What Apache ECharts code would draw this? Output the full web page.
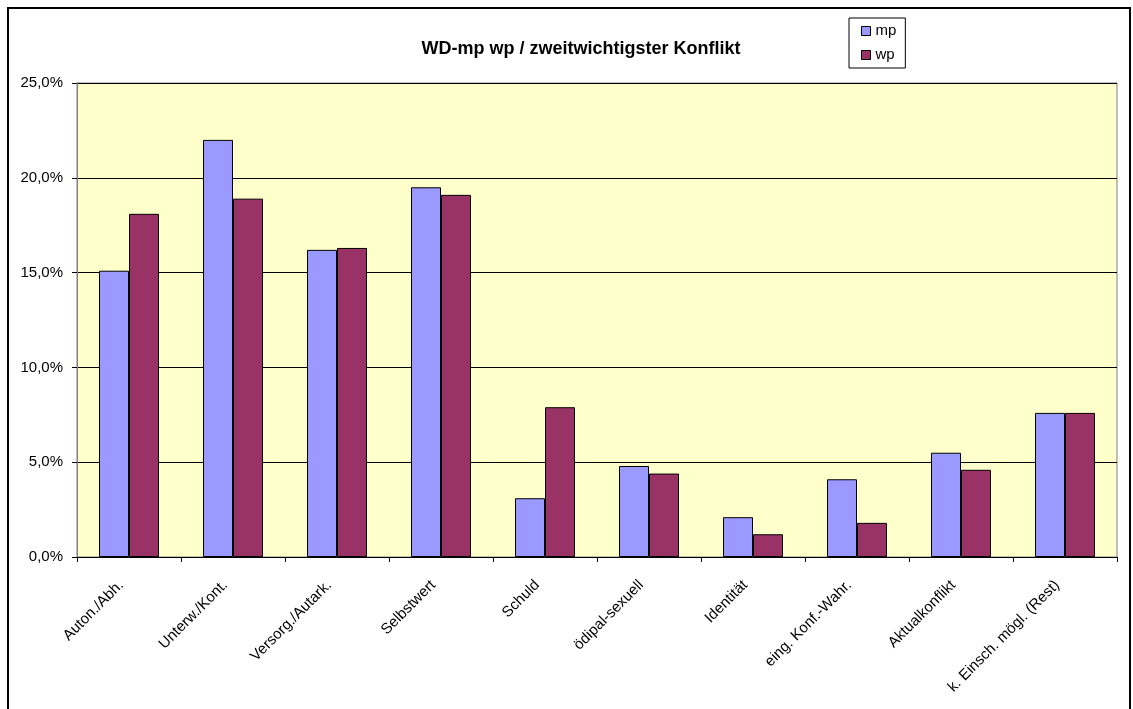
<!DOCTYPE html>
<html>
<head>
<meta charset="utf-8">
<script src="https://cdn.jsdelivr.net/npm/echarts@6/dist/echarts.min.js"></script>
<style>
    html, body { margin: 0; padding: 0; background: #fff; }
    #chart { width: 1133px; height: 709px; }
</style>
</head>
<body>
<div id="chart"></div>
<script>
var categories = ['Auton./Abh.', 'Unterw./Kont.', 'Versorg./Autark.', 'Selbstwert', 'Schuld',
    'ödipal-sexuell', 'Identität', 'eing. Konf.-Wahr.', 'Aktualkonflikt', 'k. Einsch. mögl. (Rest)'];
var mpValues = [15.1, 22.0, 16.2, 19.5, 3.1, 4.8, 2.1, 4.1, 5.5, 7.6];
var wpValues = [18.1, 18.9, 16.3, 19.1, 7.9, 4.4, 1.2, 1.8, 4.6, 7.6];

var fontFamily = 'Liberation Sans, Arial, sans-serif';

function pct(v) {
    return v.toFixed(1).replace('.', ',') + '%';
}

var chart = echarts.init(document.getElementById('chart'));
chart.setOption({
    animation: false,
    backgroundColor: '#ffffff',
    textStyle: { fontFamily: fontFamily },
    title: {
        text: 'WD-mp wp / zweitwichtigster Konflikt',
        left: 576,
        textAlign: 'center',
        top: 35,
        textStyle: { fontSize: 18, fontWeight: 'bold', color: '#000', fontFamily: fontFamily }
    },
    legend: {
        orient: 'vertical',
        left: 849,
        top: 18,
        padding: [4, 9, 4, 12],
        itemGap: 6,
        itemWidth: 9,
        itemHeight: 9,
        borderColor: '#000',
        borderWidth: 1,
        icon: 'rect',
        itemStyle: { borderColor: '#000', borderWidth: 1 },
        textStyle: { fontSize: 15, lineHeight: 18, color: '#000' },
        data: ['mp', 'wp']
    },
    graphic: [{
        type: 'rect',
        shape: { x: 8, y: 8, width: 1122, height: 720 },
        style: { fill: 'none', stroke: '#000', lineWidth: 2 },
        silent: true
    }],
    grid: {
        left: 77,
        right: 16,
        top: 83,
        bottom: 152,
        show: true,
        backgroundColor: '#FFFFCC',
        borderColor: '#808080',
        borderWidth: 1
    },
    xAxis: {
        type: 'category',
        data: categories,
        axisLine: { lineStyle: { color: '#000', width: 1 } },
        axisTick: { show: true, length: 5, lineStyle: { color: '#000' } },
        axisLabel: {
            rotate: 45,
            interval: 0,
            margin: 18,
            padding: [0, 11, 0, 0],
            fontSize: 15,
            color: '#000'
        }
    },
    yAxis: {
        type: 'value',
        min: 0,
        max: 25,
        interval: 5,
        axisLine: { show: true, lineStyle: { color: '#808080' } },
        axisTick: { show: true, length: 5, lineStyle: { color: '#000' } },
        axisLabel: {
            formatter: pct,
            fontSize: 15,
            color: '#000',
            margin: 14
        },
        splitLine: { lineStyle: { color: '#000', width: 1 } }
    },
    series: [{
        name: 'mp',
        type: 'bar',
        data: mpValues,
        barWidth: 30,
        barGap: '0%',
        itemStyle: { color: '#9999FF', borderColor: '#000', borderWidth: 1 }
    }, {
        name: 'wp',
        type: 'bar',
        data: wpValues,
        barWidth: 30,
        barGap: '0%',
        itemStyle: { color: '#993366', borderColor: '#000', borderWidth: 1 }
    }]
});
</script>
</body>
</html>
